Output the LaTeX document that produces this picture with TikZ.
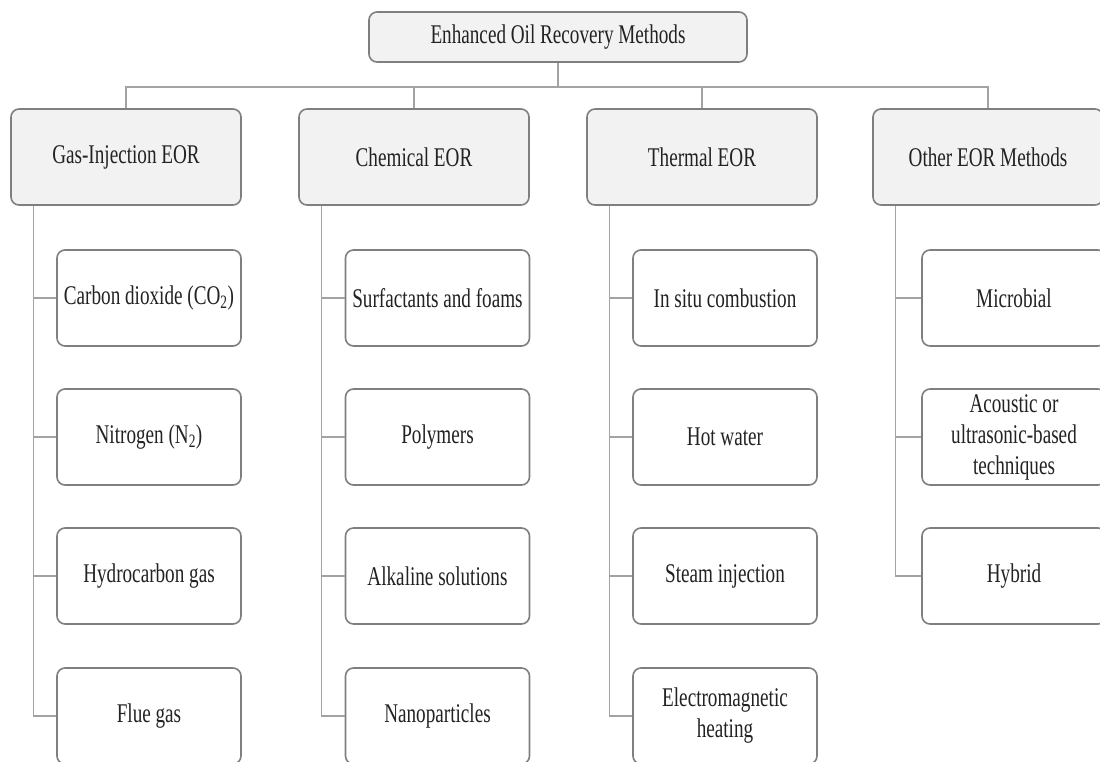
\documentclass[tikz,border=0pt]{standalone}
\usepackage{fontspec}
\setmainfont{Liberation Serif}[FakeStretch=0.71]
\usepackage{tikz}

\definecolor{boxline}{HTML}{7F7F7F}
\definecolor{boxfill}{HTML}{F2F2F2}
\definecolor{linkline}{HTML}{A3A3A3}
\definecolor{textcol}{HTML}{222222}

\tikzset{
    basebox/.style={draw=boxline, line width=1.6pt, rounded corners=8pt, align=center,
        text=textcol, font=\fontsize{27}{31}\selectfont, inner sep=0pt},
    rootbox/.style={basebox, fill=boxfill, minimum width=378pt, minimum height=50pt},
    catbox/.style={basebox, fill=boxfill, minimum width=230pt, minimum height=96pt},
    itembox/.style={basebox, fill=white, minimum width=184pt, minimum height=96pt},
    link/.style={draw=linkline, line width=1.5pt}
}

\begin{document}
\begin{tikzpicture}[x=1pt, y=-1pt]
    \useasboundingbox (0,0) rectangle (1100,762);

    \node[rootbox] (root) at (558,37) {Enhanced Oil Recovery Methods};

    \node[catbox] (gas) at (126,157) {Gas-Injection EOR};
    \node[catbox] (chem) at (414,157) {Chemical EOR};
    \node[catbox] (therm) at (702,157) {Thermal EOR};
    \node[catbox] (other) at (988,157) {Other EOR Methods};

    \coordinate (bus) at (558,87);
    \draw[link] (root.south) -- (bus);
    \draw[link] (gas.north) -- (gas.north |- bus) -- (other.north |- bus) -- (other.north);
    \draw[link] (chem.north) -- (chem.north |- bus);
    \draw[link] (therm.north) -- (therm.north |- bus);

    \node[itembox] (co2) at (149,298) {Carbon dioxide (CO\textsubscript{2})};
    \node[itembox] (n2) at (149,437) {Nitrogen (N\textsubscript{2})};
    \node[itembox] (hcgas) at (149,576) {Hydrocarbon gas};
    \node[itembox] (flue) at (149,716) {Flue gas};

    \node[itembox] (surf) at (437.5,298) {Surfactants and foams};
    \node[itembox] (poly) at (437.5,437) {Polymers};
    \node[itembox] (alk) at (437.5,576) {Alkaline solutions};
    \node[itembox] (nano) at (437.5,716) {Nanoparticles};

    \node[itembox] (insitu) at (725,298) {In situ combustion};
    \node[itembox] (hotw) at (725,437) {Hot water};
    \node[itembox] (steam) at (725,576) {Steam injection};
    \node[itembox] (emag) at (725,716) {Electromagnetic\\heating};

    \node[itembox] (micro) at (1014,298) {Microbial};
    \node[itembox] (acou) at (1014,437) {Acoustic or\\ultrasonic-based\\techniques};
    \node[itembox] (hyb) at (1014,576) {Hybrid};

    \draw[link] ([xshift=23.5pt]gas.south west) |- (flue.west);
    \draw[link] ([xshift=23.5pt]gas.south west |- co2.west) -- (co2.west);
    \draw[link] ([xshift=23.5pt]gas.south west |- n2.west) -- (n2.west);
    \draw[link] ([xshift=23.5pt]gas.south west |- hcgas.west) -- (hcgas.west);

    \draw[link] ([xshift=23.5pt]chem.south west) |- (nano.west);
    \draw[link] ([xshift=23.5pt]chem.south west |- surf.west) -- (surf.west);
    \draw[link] ([xshift=23.5pt]chem.south west |- poly.west) -- (poly.west);
    \draw[link] ([xshift=23.5pt]chem.south west |- alk.west) -- (alk.west);

    \draw[link] ([xshift=23.5pt]therm.south west) |- (emag.west);
    \draw[link] ([xshift=23.5pt]therm.south west |- insitu.west) -- (insitu.west);
    \draw[link] ([xshift=23.5pt]therm.south west |- hotw.west) -- (hotw.west);
    \draw[link] ([xshift=23.5pt]therm.south west |- steam.west) -- (steam.west);

    \draw[link] ([xshift=23.5pt]other.south west) |- (hyb.west);
    \draw[link] ([xshift=23.5pt]other.south west |- micro.west) -- (micro.west);
    \draw[link] ([xshift=23.5pt]other.south west |- acou.west) -- (acou.west);
\end{tikzpicture}
\end{document}
